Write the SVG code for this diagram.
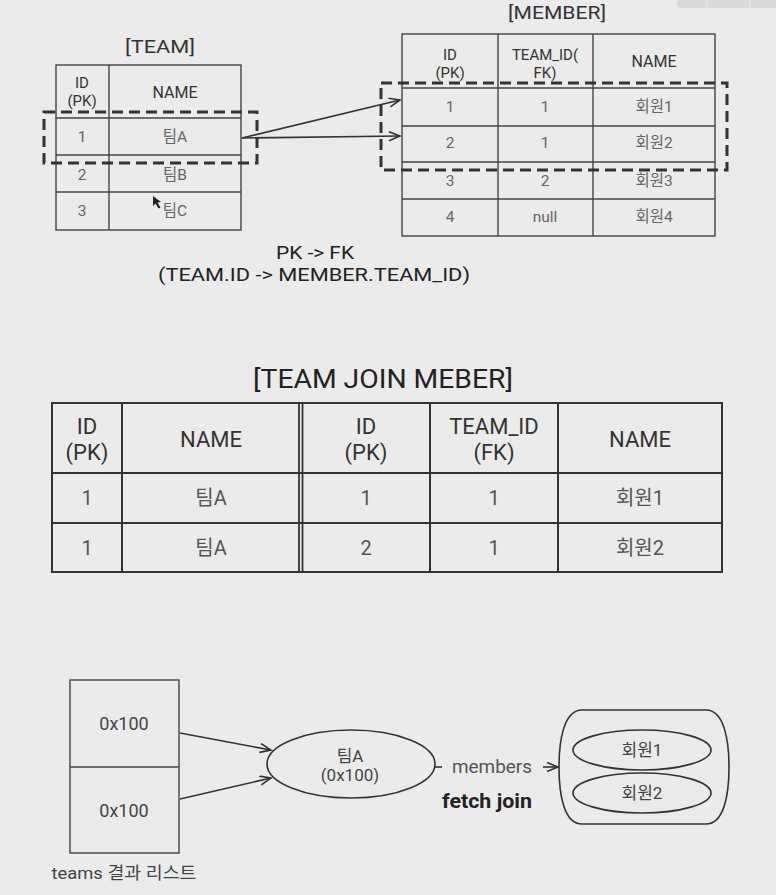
<svg xmlns="http://www.w3.org/2000/svg" width="776" height="895" viewBox="0 0 776 895">
<defs>
<style>
text{font-family:Roboto,"Noto Sans","Noto Sans CJK KR",sans-serif;text-anchor:middle}
.t{fill:#333;font-size:18px}
.h{fill:#333;font-size:16px}
.h2{fill:#333;font-size:15px}
.d{fill:#666;font-size:15.5px}
.jh{fill:#333;font-size:22px}
.jd{fill:#555;font-size:20px}
.grid{fill:none;stroke:#444;stroke-width:1.4}
.jgrid{fill:none;stroke:#333;stroke-width:2}
.dash{fill:none;stroke:#333;stroke-width:3;stroke-dasharray:11 6}
.conn{fill:none;stroke:#333;stroke-width:1.6}
</style>
<marker id="arr" markerUnits="userSpaceOnUse" markerWidth="14" markerHeight="12" refX="12" refY="5" orient="auto">
<path d="M1,0.5 L12,5 L1,9.5" fill="none" stroke="#333" stroke-width="1.6"/>
</marker>
</defs>
<rect width="776" height="895" fill="#ebebeb"/>
<path d="M677,0 H776 V8 H682 Q677,8 677,3 Z" fill="#dadada"/>
<line x1="707" y1="0" x2="707" y2="8" stroke="#e6e6e6"/>
<line x1="750" y1="0" x2="750" y2="8" stroke="#e6e6e6"/>

<g id="team">
<text class="t" x="160" y="53" textLength="70" lengthAdjust="spacingAndGlyphs">[TEAM]</text>
<rect class="grid" x="56" y="65" width="185" height="165"/>
<line class="grid" x1="109" y1="65" x2="109" y2="230"/>
<line class="grid" x1="56" y1="118" x2="241" y2="118"/>
<line class="grid" x1="56" y1="155" x2="241" y2="155"/>
<line class="grid" x1="56" y1="192" x2="241" y2="192"/>
<text class="h2" x="82" y="88">ID</text>
<text class="h2" x="82" y="106">(PK)</text>
<text class="h" x="175" y="98">NAME</text>
<text class="d" x="82" y="142">1</text><text class="d" x="175" y="142">팀A</text>
<text class="d" x="82" y="180">2</text><text class="d" x="175" y="180">팀B</text>
<text class="d" x="82" y="216">3</text><text class="d" x="175" y="216">팀C</text>
<polygon points="153,196 153,206 155.5,203.5 158.5,208.5 160.5,207.5 157.5,202.5 161,202" fill="#222"/>
<rect class="dash" x="44" y="112" width="213" height="51"/>
</g>

<g id="member">
<text class="t" x="557" y="19" textLength="98" lengthAdjust="spacingAndGlyphs">[MEMBER]</text>
<rect class="grid" x="402" y="34" width="313" height="202"/>
<line class="grid" x1="498" y1="34" x2="498" y2="236"/>
<line class="grid" x1="593" y1="34" x2="593" y2="236"/>
<line class="grid" x1="402" y1="88" x2="715" y2="88"/>
<line class="grid" x1="402" y1="126" x2="715" y2="126"/>
<line class="grid" x1="402" y1="162" x2="715" y2="162"/>
<line class="grid" x1="402" y1="199" x2="715" y2="199"/>
<text class="h2" x="450" y="60">ID</text>
<text class="h2" x="450" y="78">(PK)</text>
<text class="h2" x="545" y="60">TEAM_ID(</text>
<text class="h2" x="545" y="78">FK)</text>
<text class="h" x="654" y="67">NAME</text>
<text class="d" x="450" y="112">1</text><text class="d" x="545" y="112">1</text><text class="d" x="654" y="112">회원1</text>
<text class="d" x="450" y="148">2</text><text class="d" x="545" y="148">1</text><text class="d" x="654" y="148">회원2</text>
<text class="d" x="450" y="186">3</text><text class="d" x="545" y="186">2</text><text class="d" x="654" y="186">회원3</text>
<text class="d" x="450" y="222">4</text><text class="d" x="545" y="222">null</text><text class="d" x="654" y="222">회원4</text>
<rect class="dash" x="381" y="83" width="346" height="87"/>
</g>

<g id="connectors">
<line class="conn" x1="242" y1="138" x2="400" y2="100" marker-end="url(#arr)"/>
<line class="conn" x1="242" y1="138" x2="400" y2="136" marker-end="url(#arr)"/>
<line class="conn" x1="180" y1="733" x2="271" y2="750" marker-end="url(#arr)"/>
<line class="conn" x1="180" y1="799" x2="271" y2="778" marker-end="url(#arr)"/>
<line class="conn" x1="435" y1="767" x2="442" y2="767"/>
<line class="conn" x1="543" y1="767" x2="558" y2="767" marker-end="url(#arr)"/>
</g>

<g id="pk-fk-label">
<text x="315" y="259" style="fill:#222;font-size:19px" textLength="78" lengthAdjust="spacingAndGlyphs">PK -&gt; FK</text>
<text x="314" y="281" style="fill:#222;font-size:19px" textLength="312" lengthAdjust="spacingAndGlyphs">(TEAM.ID -&gt; MEMBER.TEAM_ID)</text>
</g>

<g id="join-table">
<text x="383" y="388" style="fill:#222;font-size:26px" textLength="260" lengthAdjust="spacingAndGlyphs">[TEAM JOIN MEBER]</text>
<rect class="jgrid" x="52" y="403" width="670" height="169"/>
<line class="jgrid" x1="122" y1="403" x2="122" y2="572"/>
<line x1="299" y1="403" x2="299" y2="572" stroke="#333" stroke-width="1.8"/>
<line x1="302.5" y1="403" x2="302.5" y2="572" stroke="#333" stroke-width="1.8"/>
<line class="jgrid" x1="430" y1="403" x2="430" y2="572"/>
<line class="jgrid" x1="558" y1="403" x2="558" y2="572"/>
<line class="jgrid" x1="52" y1="473" x2="722" y2="473"/>
<line class="jgrid" x1="52" y1="523" x2="722" y2="523"/>
<text class="jh" x="87" y="434">ID</text><text class="jh" x="87" y="460">(PK)</text>
<text class="jh" x="211" y="447">NAME</text>
<text class="jh" x="366" y="434">ID</text><text class="jh" x="366" y="460">(PK)</text>
<text class="jh" x="494" y="434">TEAM_ID</text><text class="jh" x="494" y="460">(FK)</text>
<text class="jh" x="640" y="447">NAME</text>
<text class="jd" x="87" y="505">1</text><text class="jd" x="211" y="505">팀A</text><text class="jd" x="366" y="505">1</text><text class="jd" x="494" y="505">1</text><text class="jd" x="640" y="505">회원1</text>
<text class="jd" x="87" y="555">1</text><text class="jd" x="211" y="555">팀A</text><text class="jd" x="366" y="555">2</text><text class="jd" x="494" y="555">1</text><text class="jd" x="640" y="555">회원2</text>
</g>

<g id="teams-list">
<rect class="grid" x="70" y="680" width="109" height="173"/>
<line class="grid" x1="70" y1="767" x2="179" y2="767"/>
<text x="124" y="730" style="fill:#444;font-size:18px">0x100</text>
<text x="124" y="817" style="fill:#444;font-size:18px">0x100</text>
<text x="124" y="879" style="fill:#444;font-size:17px" textLength="145" lengthAdjust="spacingAndGlyphs">teams 결과 리스트</text>
</g>

<g id="teamA">
<ellipse cx="351" cy="764" rx="84" ry="34" fill="none" stroke="#333" stroke-width="1.6"/>
<text x="350" y="762" style="fill:#444;font-size:17px">팀A</text>
<text x="350" y="781" style="fill:#444;font-size:17px">(0x100)</text>
</g>

<g id="members-label">
<text x="492" y="773" style="fill:#555;font-size:18px" textLength="80" lengthAdjust="spacingAndGlyphs">members</text>
<text x="487" y="808" style="fill:#222;font-size:20px;font-weight:bold" textLength="90" lengthAdjust="spacingAndGlyphs">fetch join</text>
</g>

<g id="members">
<path d="M582,710 H706 C724,710 729,740 729,767 C729,795 724,824 706,824 H582 C564,824 559,795 559,767 C559,740 564,710 582,710 Z" fill="none" stroke="#333" stroke-width="1.6"/>
<ellipse cx="642" cy="750" rx="69" ry="20" fill="none" stroke="#333" stroke-width="1.6"/>
<ellipse cx="642" cy="793" rx="69" ry="20" fill="none" stroke="#333" stroke-width="1.6"/>
<text x="642" y="756" style="fill:#444;font-size:17px">회원1</text>
<text x="642" y="799" style="fill:#444;font-size:17px">회원2</text>
</g>
</svg>
